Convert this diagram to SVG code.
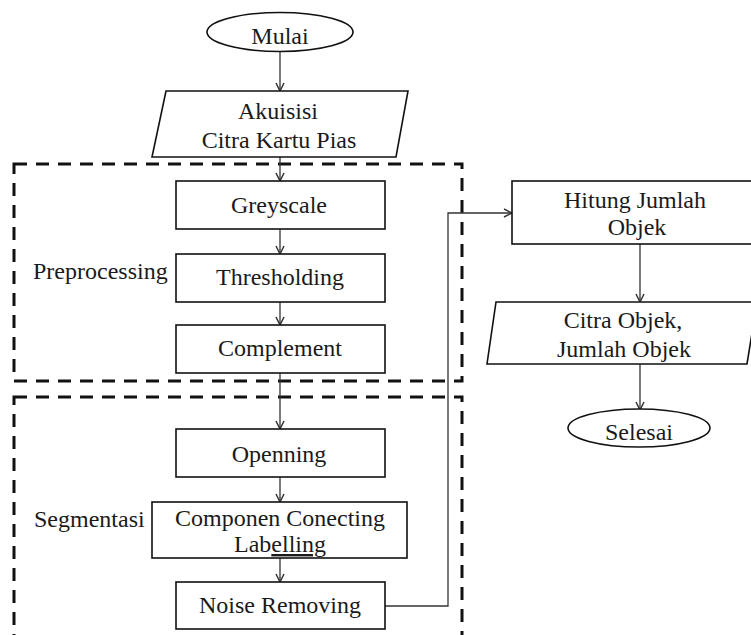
<svg xmlns="http://www.w3.org/2000/svg" width="751" height="635" viewBox="0 0 751 635">
<defs>
<style>
.box{fill:#fff;stroke:#111;stroke-width:1.6}
.grp{fill:none;stroke:#111;stroke-width:3;stroke-dasharray:13 9}
text{font-family:Liberation Serif, Tinos, Times New Roman, Times, serif;font-size:24px;fill:#1a1a1a}
.t{text-anchor:middle}
.c{fill:none;stroke:#333;stroke-width:1.3}
</style>
<marker id="ah" viewBox="0 0 10 10" refX="9" refY="5" markerWidth="10" markerHeight="10" markerUnits="userSpaceOnUse" orient="auto">
<path d="M1,1 L9,5 L1,9" fill="none" stroke="#333" stroke-width="1.5"/>
</marker>
</defs>
<rect width="751" height="635" fill="#fff"/>
<g id="groups">
<rect id="preprocessing-group" class="grp" x="14" y="164" width="448" height="217"/>
<rect id="segmentasi-group" class="grp" x="14" y="397" width="448" height="260"/>
<text x="33" y="279">Preprocessing</text>
<text x="34" y="527">Segmentasi</text>
</g>
<g id="connectors">
<line class="c" x1="280" y1="52" x2="280" y2="91" marker-end="url(#ah)"/>
<line class="c" x1="280" y1="157" x2="280" y2="181" marker-end="url(#ah)"/>
<line class="c" x1="280" y1="229" x2="280" y2="254" marker-end="url(#ah)"/>
<line class="c" x1="280" y1="302" x2="280" y2="325" marker-end="url(#ah)"/>
<line class="c" x1="280" y1="373" x2="280" y2="429" marker-end="url(#ah)"/>
<line class="c" x1="280" y1="477" x2="280" y2="502" marker-end="url(#ah)"/>
<line class="c" x1="280" y1="558" x2="280" y2="582" marker-end="url(#ah)"/>
<path class="c" d="M385,606 H448 V213 H512" marker-end="url(#ah)"/>
<line class="c" x1="640" y1="244" x2="640" y2="302" marker-end="url(#ah)"/>
<line class="c" x1="640" y1="364" x2="640" y2="410" marker-end="url(#ah)"/>
</g>
<g id="mulai">
<ellipse class="box" cx="280" cy="32" rx="73" ry="19.5"/>
<text class="t" x="280" y="44">Mulai</text>
</g>
<g id="akuisisi">
<polygon class="box" points="166,91 408,91 396,157 152,157"/>
<text class="t" x="278" y="119">Akuisisi</text>
<text class="t" x="279" y="148">Citra Kartu Pias</text>
</g>
<g id="greyscale">
<rect class="box" x="176" y="181" width="209" height="48"/>
<text class="t" x="279" y="213">Greyscale</text>
</g>
<g id="thresholding">
<rect class="box" x="176" y="254" width="209" height="48"/>
<text class="t" x="280" y="285">Thresholding</text>
</g>
<g id="complement">
<rect class="box" x="176" y="325" width="209" height="48"/>
<text class="t" x="280" y="356">Complement</text>
</g>
<g id="openning">
<rect class="box" x="176" y="429" width="209" height="48"/>
<text class="t" x="279" y="462">Openning</text>
</g>
<g id="ccl">
<rect class="box" x="152" y="502" width="255" height="56"/>
<text class="t" x="280" y="526">Componen Conecting</text>
<text class="t" x="280" y="552">Lab<tspan text-decoration="underline">elling</tspan></text>
</g>
<g id="noise-removing">
<rect class="box" x="176" y="582" width="209" height="47"/>
<text class="t" x="280" y="613">Noise Removing</text>
</g>
<g id="hitung">
<rect class="box" x="512" y="181" width="242" height="63"/>
<text class="t" x="635" y="208">Hitung Jumlah</text>
<text class="t" x="637" y="235">Objek</text>
</g>
<g id="citra-objek">
<polygon class="box" points="496,302 757,302 747,364 487,364"/>
<text class="t" x="623" y="328">Citra Objek,</text>
<text class="t" x="624" y="357">Jumlah Objek</text>
</g>
<g id="selesai">
<ellipse class="box" cx="639" cy="428" rx="71" ry="19"/>
<text class="t" x="639" y="440">Selesai</text>
</g>
</svg>
